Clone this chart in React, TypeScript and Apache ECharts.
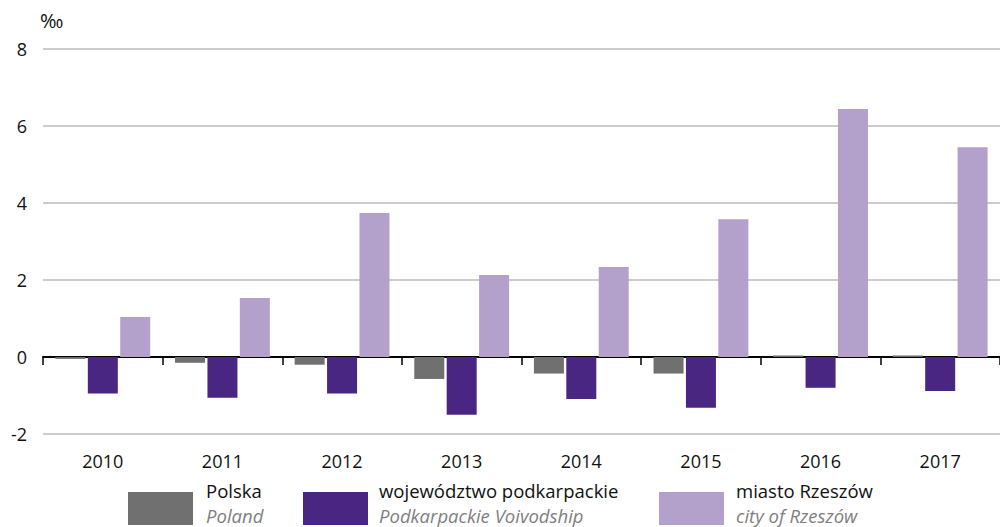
import React, { useEffect, useRef } from "react";
import * as echarts from "echarts";

const years = ["2010", "2011", "2012", "2013", "2014", "2015", "2016", "2017"];
const polska = [-0.05, -0.15, -0.2, -0.57, -0.43, -0.43, 0.04, 0.04];
const podkarpackie = [-0.95, -1.06, -0.95, -1.5, -1.09, -1.32, -0.8, -0.88];
const rzeszow = [1.04, 1.53, 3.74, 2.13, 2.34, 3.58, 6.44, 5.45];
const yTicks = { min: -2, max: 8, interval: 2 };

const legendItems = [
  { pl: "Polska", en: "Poland", color: "#707070", x: 128, tx: 206 },
  { pl: "województwo podkarpackie", en: "Podkarpackie Voivodship", color: "#4a2683", x: 303, tx: 379 },
  { pl: "miasto Rzeszów", en: "city of Rzeszów", color: "#b3a1cb", x: 659, tx: 736 },
];

const FONT = "'Open Sans', 'Noto Sans', sans-serif";

export default function App() {
  const ref = useRef<HTMLDivElement>(null);
  useEffect(() => {
    if (!ref.current) return;
    const chart = echarts.init(ref.current, undefined, { renderer: "svg" });
    const graphics: any[] = [
      {
        type: "text",
        left: 40,
        top: 10,
        style: { text: "‰", font: `20px ${FONT}`, fill: "#111" },
      },
    ];
    legendItems.forEach((it) => {
      graphics.push({
        type: "rect",
        shape: { x: it.x, y: 492, width: 65, height: 33 },
        style: { fill: it.color },
      });
      graphics.push({
        type: "text",
        x: it.tx,
        y: 478,
        style: {
          text: `{a|${it.pl}}\n{b|${it.en}}`,
          verticalAlign: "top",
          rich: {
            a: { fontSize: 18.5, fontFamily: FONT, fill: "#111", lineHeight: 25 },
            b: { fontSize: 18.5, fontFamily: FONT, fontStyle: "italic", fill: "#808080", lineHeight: 24 },
          },
        },
      });
    });
    chart.setOption({
      animation: false,
      grid: { left: 43, right: -10, top: 49, bottom: 93, containLabel: false },
      xAxis: [
        {
          type: "category",
          data: years,
          axisLine: { onZero: true, lineStyle: { color: "#000", width: 2 } },
          axisTick: { show: true, length: 8, lineStyle: { color: "#000", width: 1.5 } },
          axisLabel: { show: false },
        },
        {
          type: "category",
          data: years,
          position: "bottom",
          axisLine: { show: false, onZero: false },
          axisTick: { show: false },
          axisLabel: { show: true, margin: 18, fontSize: 18, color: "#111", fontFamily: FONT },
        },
      ],
      yAxis: {
        type: "value",
        min: yTicks.min,
        max: yTicks.max,
        interval: yTicks.interval,
        axisLine: { show: false },
        axisTick: { show: false },
        axisLabel: { margin: 16, fontSize: 18, color: "#111", fontFamily: FONT },
        splitLine: { lineStyle: { color: "#bbbbbb", width: 1.5 } },
      },
      series: [
        { name: "Polska", type: "bar", data: polska, barWidth: 30, barGap: "8%", itemStyle: { color: "#707070" } },
        { name: "województwo podkarpackie", type: "bar", data: podkarpackie, barWidth: 30, barGap: "8%", itemStyle: { color: "#4a2683" } },
        { name: "miasto Rzeszów", type: "bar", data: rzeszow, barWidth: 30, barGap: "8%", itemStyle: { color: "#b3a1cb" } },
      ],
      graphic: graphics,
    });
    return () => chart.dispose();
  }, []);
  return <div ref={ref} style={{ width: 1000, height: 527, position: "absolute", left: 0, top: 0 }} />;
}
